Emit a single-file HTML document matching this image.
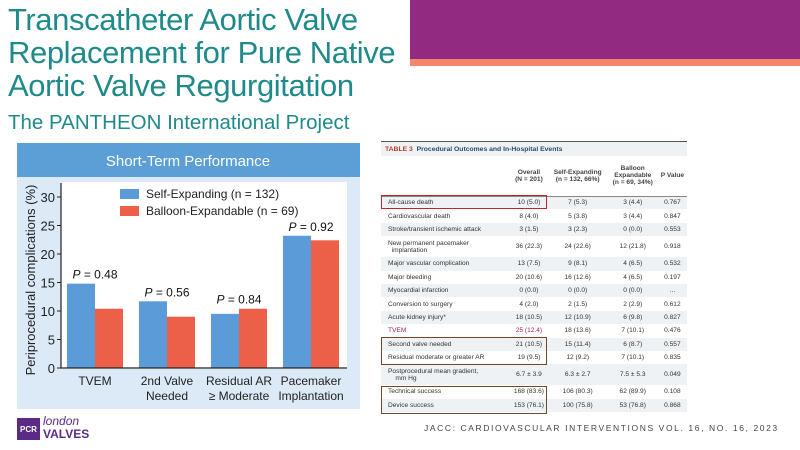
<!DOCTYPE html>
<html><head><meta charset="utf-8"><style>
*{margin:0;padding:0;box-sizing:border-box}
body{width:800px;height:450px;background:#fff;position:relative;overflow:hidden;font-family:"Liberation Sans",sans-serif}
.abs{position:absolute}
.title{left:8px;color:#1e8a8a;font-size:31px;line-height:33px;top:3px;letter-spacing:-0.4px}
.sub{left:8px;top:111px;color:#1e8a8a;font-size:20.5px}
table{border-collapse:collapse;font-size:6.6px;color:#333}
td{height:13.4px;padding:0 0 0 7px;white-space:nowrap}
td.c{text-align:center;padding:0}
tr.s td{background:#eef2f4}
</style></head><body>
<div class="abs title">Transcatheter Aortic Valve<br>Replacement for Pure Native<br>Aortic Valve Regurgitation</div>
<div class="abs sub">The PANTHEON International Project</div>
<div class="abs" style="left:410px;top:0;width:390px;height:59px;background:#922a82"></div>
<div class="abs" style="left:410px;top:59px;width:390px;height:7px;background:#f4876a"></div>

<svg class="abs" style="left:0;top:0" width="370" height="412">
<rect x="17" y="143" width="343" height="266" fill="#dce9f6"/>
<rect x="17" y="143" width="343" height="34" fill="#5b9fd6"/>
<text x="188" y="166" text-anchor="middle" fill="#fff" font-size="15">Short-Term Performance</text>
<rect x="61" y="182" width="286" height="187" fill="#fff"/>
<g id="g"></g>
</svg>

<div class="abs" style="left:381px;top:141px;width:306px;height:278px;border-top:1px solid #555">
<div style="height:14px;background:#eef2f4;font-size:6.8px;font-weight:bold;color:#2a4a6a;padding:4px 0 0 4px"><span style="color:#c0392b">TABLE 3</span>&nbsp; Procedural Outcomes and In-Hospital Events</div>
<table style="width:306px">
<tr style="font-weight:bold;color:#444"><td style="height:40px;border-bottom:1px solid #888"></td><td class="c" style="border-bottom:1px solid #888">Overall<br>(N = 201)</td><td class="c" style="border-bottom:1px solid #888">Self-Expanding<br>(n = 132, 66%)</td><td class="c" style="border-bottom:1px solid #888">Balloon<br>Expandable<br>(n = 69, 34%)</td><td class="c" style="border-bottom:1px solid #888">P Value</td></tr>
<tr class="s"><td>All-cause death</td><td class="c">10 (5.0)</td><td class="c">7 (5.3)</td><td class="c">3 (4.4)</td><td class="c">0.767</td></tr>
<tr><td>Cardiovascular death</td><td class="c">8 (4.0)</td><td class="c">5 (3.8)</td><td class="c">3 (4.4)</td><td class="c">0.847</td></tr>
<tr class="s"><td>Stroke/transient ischemic attack</td><td class="c">3 (1.5)</td><td class="c">3 (2.3)</td><td class="c">0 (0.0)</td><td class="c">0.553</td></tr>
<tr><td style="height:21px">New permanent pacemaker<br>&nbsp;&nbsp;implantation</td><td class="c">36 (22.3)</td><td class="c">24 (22.6)</td><td class="c">12 (21.8)</td><td class="c">0.918</td></tr>
<tr class="s"><td>Major vascular complication</td><td class="c">13 (7.5)</td><td class="c">9 (8.1)</td><td class="c">4 (6.5)</td><td class="c">0.532</td></tr>
<tr><td>Major bleeding</td><td class="c">20 (10.6)</td><td class="c">16 (12.6)</td><td class="c">4 (6.5)</td><td class="c">0.197</td></tr>
<tr class="s"><td>Myocardial infarction</td><td class="c">0 (0.0)</td><td class="c">0 (0.0)</td><td class="c">0 (0.0)</td><td class="c">...</td></tr>
<tr><td>Conversion to surgery</td><td class="c">4 (2.0)</td><td class="c">2 (1.5)</td><td class="c">2 (2.9)</td><td class="c">0.612</td></tr>
<tr class="s"><td>Acute kidney injury*</td><td class="c">18 (10.5)</td><td class="c">12 (10.9)</td><td class="c">6 (9.8)</td><td class="c">0.827</td></tr>
<tr style="color:#a0205a"><td>TVEM</td><td class="c">25 (12.4)</td><td class="c" style="color:#333">18 (13.6)</td><td class="c" style="color:#333">7 (10.1)</td><td class="c" style="color:#333">0.476</td></tr>
<tr class="s"><td>Second valve needed</td><td class="c">21 (10.5)</td><td class="c">15 (11.4)</td><td class="c">6 (8.7)</td><td class="c">0.557</td></tr>
<tr><td>Residual moderate or greater AR</td><td class="c">19 (9.5)</td><td class="c">12 (9.2)</td><td class="c">7 (10.1)</td><td class="c">0.835</td></tr>
<tr class="s"><td style="height:21px">Postprocedural mean gradient,<br>&nbsp;&nbsp;&nbsp;&nbsp;mm Hg</td><td class="c">6.7 ± 3.9</td><td class="c">6.3 ± 2.7</td><td class="c">7.5 ± 5.3</td><td class="c">0.049</td></tr>
<tr><td>Technical success</td><td class="c">168 (83.6)</td><td class="c">106 (80.3)</td><td class="c">62 (89.9)</td><td class="c">0.108</td></tr>
<tr class="s"><td>Device success</td><td class="c">153 (76.1)</td><td class="c">100 (75.8)</td><td class="c">53 (76.8)</td><td class="c">0.868</td></tr>
</table>
</div>
<div class="abs" style="left:381px;top:195px;width:166px;height:14px;border:1.5px solid #c0262d"></div>
<div class="abs" style="left:381px;top:337px;width:166px;height:28px;border:1.5px solid #6b4a2a"></div>
<div class="abs" style="left:381px;top:386px;width:166px;height:28px;border:1.5px solid #6b4a2a"></div>
<div class="abs" style="left:424px;top:423px;font-size:8.5px;letter-spacing:1.6px;color:#444;white-space:nowrap">JACC: CARDIOVASCULAR INTERVENTIONS VOL. 16, NO. 16, 2023</div>

<div class="abs" style="left:17px;top:418px;width:23px;height:22px;background:#5b2a86;color:#fff;font-size:8px;font-weight:bold;padding-top:7px;text-align:center">PCR</div>
<div class="abs" style="left:43px;top:414px;color:#5b2a86;font-size:12px;font-style:italic">london</div>
<div class="abs" style="left:43px;top:427px;color:#5b2a86;font-size:12px;font-weight:bold">VALVES</div>

<script>
const categories=["TVEM","2nd Valve|Needed","Residual AR|≥ Moderate","Pacemaker|Implantation"];
const selfExp=[14.8,11.7,9.5,23.2];
const balloon=[10.4,9.0,10.4,22.4];
const pLabels=["P = 0.48","P = 0.56","P = 0.84","P = 0.92"];
const yTicks=[0,5,10,15,20,25,30];
const NS="http://www.w3.org/2000/svg";
const g=document.getElementById('g');
const x0=61,plotW=288,y0=368,pxPer=5.7,bw=28;
const y=v=>y0-v*pxPer;
const gx=i=>x0+6+i*(plotW/4);
function mk(t,a,txt){const e=document.createElementNS(NS,t);for(const k in a)e.setAttribute(k,a[k]);if(txt!=null)e.textContent=txt;g.appendChild(e);return e;}
yTicks.forEach(v=>{
 const l=mk('line',{x1:x0-4,x2:x0,y1:y(v),y2:y(v),stroke:'#222','stroke-width':1});
 
 
 const t=mk('text',{x:x0-6,y:y(v)+5,'text-anchor':'end','font-size':13,fill:'#222'},v);
 
 
});
categories.forEach((c,i)=>{
 const bx=gx(i);
 const b1=mk('rect',{x:bx,y:y(selfExp[i]),width:bw,height:selfExp[i]*pxPer,fill:'#5b9bd8'});
 
 
 const b2=mk('rect',{x:bx+bw,y:y(balloon[i]),width:bw,height:balloon[i]*pxPer,fill:'#ec5f48'});
 
 
 const top=Math.max(selfExp[i],balloon[i]);
 const p=mk('text',{x:bx+bw,y:y(top)-5,'text-anchor':'middle','font-size':12,fill:'#111'});
 p.innerHTML='<tspan font-style="italic">P</tspan>'+pLabels[i].slice(1);
 
 
 c.split('|').forEach((ln,j)=>{
  const t=mk('text',{x:bx+bw,y:385+j*15,'text-anchor':'middle','font-size':12,fill:'#222'},ln);
  
  
 });
});
const ax=mk('path',{d:`M${x0} 183V${y0}H347`,stroke:'#222','stroke-width':1.2,fill:'none'});


const yt=mk('text',{transform:'translate(35,280) rotate(-90)','text-anchor':'middle','font-size':13,fill:'#222'},'Periprocedural complications (%)');


[['#5b9bd8','Self-Expanding (n = 132)',189],['#ec5f48','Balloon-Expandable (n = 69)',206]].forEach(d=>{
 const r=mk('rect',{x:120,y:d[2],width:19,height:10,fill:d[0]});
 
 
 const t=mk('text',{x:146,y:d[2]+9,'font-size':12,fill:'#222'},d[1]);
 
 
});
</script>
</body></html>
